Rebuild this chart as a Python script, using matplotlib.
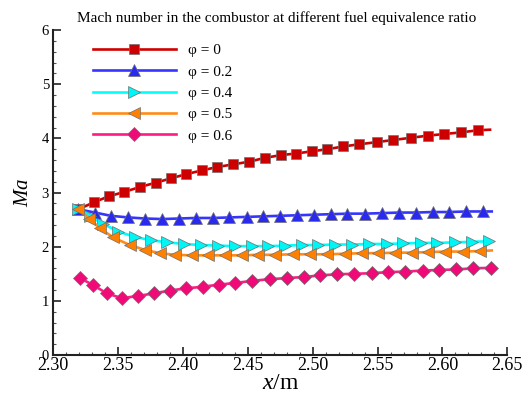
import matplotlib
matplotlib.use("Agg")
import matplotlib.pyplot as plt

plt.rcParams['font.family'] = ['Liberation Serif', 'DejaVu Serif']
plt.rcParams['mathtext.fontset'] = 'custom'
plt.rcParams['mathtext.rm'] = 'Liberation Serif'
plt.rcParams['mathtext.it'] = 'Liberation Serif:italic'

# Dados (x em metros, Ma)
x_phi0 = [2.3193, 2.3314, 2.3427, 2.3547, 2.3665, 2.3788, 2.3905, 2.4025, 2.4150,
          2.4262, 2.4388, 2.4511, 2.4632, 2.4753, 2.4871, 2.4992, 2.5113, 2.5236,
          2.5357, 2.5493, 2.5621, 2.5756, 2.5887, 2.6015, 2.6143, 2.6277, 2.6367]
ma_phi0 = [2.69, 2.82, 2.93, 3.01, 3.10, 3.18, 3.26, 3.34, 3.41, 3.47, 3.52, 3.57,
           3.64, 3.69, 3.72, 3.76, 3.80, 3.85, 3.89, 3.93, 3.97, 4.01, 4.05, 4.08,
           4.11, 4.15, 4.16]

x_phi02 = [2.3193, 2.3322, 2.3443, 2.3578, 2.3709, 2.3840, 2.3967, 2.4098, 2.4229,
           2.4357, 2.4491, 2.4619, 2.4748, 2.4882, 2.5010, 2.5139, 2.5267, 2.5404,
           2.5537, 2.5668, 2.5797, 2.5926, 2.6054, 2.6185, 2.6316, 2.6380]
ma_phi02 = [2.69, 2.63, 2.57, 2.54, 2.52, 2.51, 2.52, 2.53, 2.53, 2.54, 2.55, 2.56,
            2.57, 2.58, 2.59, 2.60, 2.61, 2.61, 2.62, 2.63, 2.63, 2.64, 2.64, 2.65,
            2.65, 2.65]

x_phi04 = [2.3193, 2.3283, 2.3385, 2.3501, 2.3630, 2.3751, 2.3879, 2.4008, 2.4137,
           2.4272, 2.4401, 2.4530, 2.4658, 2.4787, 2.4915, 2.5043, 2.5172, 2.5301,
           2.5436, 2.5570, 2.5698, 2.5832, 2.5960, 2.6097, 2.6225, 2.6359]
ma_phi04 = [2.69, 2.56, 2.42, 2.28, 2.18, 2.12, 2.08, 2.05, 2.03, 2.02, 2.01, 2.01,
            2.01, 2.02, 2.03, 2.03, 2.04, 2.04, 2.05, 2.05, 2.06, 2.07, 2.07, 2.08,
            2.09, 2.10]

x_phi05 = [2.3193, 2.3278, 2.3360, 2.3462, 2.3591, 2.3707, 2.3822, 2.3938, 2.4067,
           2.4195, 2.4324, 2.4452, 2.4581, 2.4710, 2.4851, 2.4982, 2.5113, 2.5249,
           2.5378, 2.5506, 2.5634, 2.5763, 2.5891, 2.6020, 2.6157, 2.6290, 2.6380]
ma_phi05 = [2.69, 2.52, 2.34, 2.17, 2.03, 1.94, 1.88, 1.85, 1.84, 1.84, 1.84, 1.84,
            1.85, 1.85, 1.86, 1.86, 1.86, 1.87, 1.88, 1.88, 1.89, 1.89, 1.90, 1.91,
            1.91, 1.92, 1.93]

x_phi06 = [2.3206, 2.3308, 2.3411, 2.3527, 2.3655, 2.3778, 2.3899, 2.4022, 2.4151,
           2.4279, 2.4404, 2.4535, 2.4670, 2.4799, 2.4930, 2.5056, 2.5189, 2.5322,
           2.5454, 2.5582, 2.5711, 2.5848, 2.5976, 2.6104, 2.6238, 2.6372]
ma_phi06 = [1.42, 1.29, 1.14, 1.05, 1.09, 1.14, 1.19, 1.23, 1.26, 1.30, 1.33, 1.37,
            1.40, 1.42, 1.44, 1.47, 1.49, 1.50, 1.51, 1.53, 1.54, 1.56, 1.57, 1.58,
            1.60, 1.61]

legendas = ['φ = 0', 'φ = 0.2', 'φ = 0.4', 'φ = 0.5', 'φ = 0.6']

series = [
    (x_phi0, ma_phi0, '#D00000', '#CC0000', 's', 7, slice(0, -1)),
    (x_phi02, ma_phi02, '#3535FF', '#2A2AEE', '^', 8.5, slice(0, -1)),
    (x_phi04, ma_phi04, '#00FFFF', '#00F5F5', '>', 8.5, None),
    (x_phi05, ma_phi05, '#FF8C1A', '#FF8000', '<', 8.5, slice(0, -1)),
    (x_phi06, ma_phi06, '#FF1A85', '#F00A78', 'D', 7.3, None),
]

fig = plt.figure(figsize=(5.25, 3.96), dpi=100)
ax = fig.add_axes([0.1015, 0.1035, 0.8648, 0.8207])

for (xs, ys, cor_linha, cor_marc, marc, tam, cada), rotulo in zip(series, legendas):
    ax.plot(xs, ys, color=cor_linha, lw=1.9, marker=marc, ms=tam,
            markerfacecolor=cor_marc, markeredgecolor='#707070',
            markeredgewidth=0.5, markevery=cada, label=rotulo)

ax.set_xlim(2.30, 2.65)
ax.set_ylim(0, 6)
ax.set_xticks([2.30, 2.35, 2.40, 2.45, 2.50, 2.55, 2.60, 2.65])
ax.set_xticklabels(['2.30', '2.35', '2.40', '2.45', '2.50', '2.55', '2.60', '2.65'])
ax.set_xticks([2.30 + 0.01 * i for i in range(36)], minor=True)
ax.set_yticks(range(7))
ax.set_yticks([0.2 * i for i in range(31)], minor=True)

for lado in ['top', 'right']:
    ax.spines[lado].set_visible(False)
for lado in ['left', 'bottom']:
    ax.spines[lado].set_linewidth(1.5)
    ax.spines[lado].set_color('#222222')

ax.tick_params(which='major', direction='in', length=5.5, width=1.2, color='#222222')
ax.tick_params(which='minor', direction='in', length=2.5, width=0.8, color='#555555')
ax.tick_params(axis='x', labelsize=13, pad=1.5)
ax.tick_params(axis='y', labelsize=10.5, pad=3)

ax.set_xlabel('$x$/m', fontsize=17, labelpad=-1)
ax.set_ylabel('$Ma$', fontsize=15, labelpad=6)

ax.text(0.052, 1.037, 'Mach number in the combustor at different fuel equivalence ratio',
        transform=ax.transAxes, fontsize=11, va='center', ha='left')

ax.legend(loc='upper left', bbox_to_anchor=(0.088, 0.958), frameon=False,
          fontsize=11, handlelength=5.4, handletextpad=0.8, labelspacing=0.5,
          borderpad=0, borderaxespad=0, numpoints=1)

fig.savefig('out.png', dpi=100)
